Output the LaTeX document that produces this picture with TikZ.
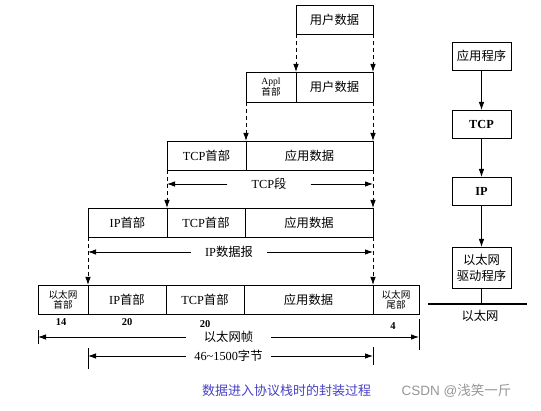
\documentclass[tikz,border=0pt]{standalone}
\usepackage{fontspec}
\setmainfont{Liberation Serif}
\newfontfamily\cjk{Noto Sans CJK SC}
\newfontfamily\wmfont{Liberation Sans}
\usetikzlibrary{arrows.meta,calc}
\definecolor{capblue}{RGB}{72,64,196}
\definecolor{wmgray}{RGB}{150,150,150}
\begin{document}
\begin{tikzpicture}[x=1pt,y=-1pt,
  cell/.style={draw, line width=0.85pt, outer sep=0pt, inner sep=0pt, align=center, font=\fontsize{12.3}{14}\selectfont},
  smallcell/.style={cell, font=\fontsize{9.6}{10}\selectfont},
  stackbox/.style={cell, minimum width=59, minimum height=28, font=\fontsize{12.3}{16}\selectfont},
  dasharrow/.style={line width=0.85pt, dash pattern=on 4pt off 3pt, -{Latex[length=8pt,width=5.5pt]}},
  solidarrow/.style={line width=0.85pt, -{Latex[length=8pt,width=5.5pt]}},
  dimlabel/.style={inner ysep=0pt, font=\fontsize{12.3}{14}\selectfont},
  numlabel/.style={inner sep=0pt, font=\fontsize{10.5}{11}\bfseries\selectfont},
  tick/.style={line width=0.85pt}
]
\useasboundingbox (0,0) rectangle (541,411);
% Row 1
\node[cell, minimum width=77, minimum height=29] (r1u) at (334.5,19.5) {\cjk 用户数据};
% Row 2
\node[smallcell, minimum width=50, minimum height=30] (r2h) at (271,87) {Appl\\{\cjk 首部}};
\node[cell, minimum width=77, minimum height=30] (r2u) at (334.5,87) {\cjk 用户数据};
% Row 3
\node[cell, minimum width=79, minimum height=29] (r3t) at (206.5,155.5) {TCP{\cjk 首部}};
\node[cell, minimum width=127, minimum height=29] (r3a) at (309.5,155.5) {\cjk 应用数据};
% Row 4
\node[cell, minimum width=79, minimum height=29] (r4i) at (127.5,222.5) {IP{\cjk 首部}};
\node[cell, minimum width=78, minimum height=29] (r4t) at (206,222.5) {TCP{\cjk 首部}};
\node[cell, minimum width=128, minimum height=29] (r4a) at (309,222.5) {\cjk 应用数据};
% Row 5
\node[smallcell, minimum width=50, minimum height=29] (r5e) at (63,299.5) {\cjk 以太网\\\cjk 首部};
\node[cell, minimum width=78, minimum height=29] (r5i) at (127,299.5) {IP{\cjk 首部}};
\node[cell, minimum width=78, minimum height=29] (r5t) at (205,299.5) {TCP{\cjk 首部}};
\node[cell, minimum width=129, minimum height=29] (r5a) at (308.5,299.5) {\cjk 应用数据};
\node[smallcell, minimum width=46, minimum height=29] (r5f) at (396,299.5) {\cjk 以太网\\\cjk 尾部};
% numbers
\node[numlabel] (n14) at (61,322) {14};
\node[numlabel] (n20a) at (127,322) {20};
\node[numlabel] (n20b) at (205,324) {20};
\node[numlabel] (n4) at (393,326) {4};
% dashed arrows
\draw[dasharrow] (r1u.south west) -- (r2u.north west);
\draw[dasharrow] (r1u.south east) -- (r2u.north east);
\draw[dasharrow] (r2h.south west) -- (r3a.north west);
\draw[dasharrow] (r2u.south east) -- (r3a.north east);
\draw[dasharrow] (r3t.south west) -- (r4t.north west);
\draw[dasharrow] (r3a.south east) -- (r4a.north east);
\draw[dasharrow] (r4i.south west) -- (r5i.north west);
\draw[dasharrow] (r4a.south east) -- (r5a.north east);
% dimension: TCP segment
\node[dimlabel, inner xsep=24pt] (dTCP) at (269,184) {TCP{\cjk 段}};
\draw[solidarrow] (dTCP.west) -- (r3t.south west |- dTCP);
\draw[solidarrow] (dTCP.east) -- (r3a.south east |- dTCP);
% dimension: IP datagram
\node[dimlabel, inner xsep=14pt] (dIP) at (229,252) {IP{\cjk 数据报}};
\draw[solidarrow] (dIP.west) -- (r4i.south west |- dIP);
\draw[solidarrow] (dIP.east) -- (r4a.south east |- dIP);
% dimension: Ethernet frame
\node[dimlabel, inner xsep=18pt] (dEth) at (228.5,337) {\cjk 以太网帧};
\draw[solidarrow] (dEth.west) -- (r5e.south west |- dEth) coordinate (eL);
\draw[solidarrow] (dEth.east) -- (r5f.south east |- dEth) coordinate (eR);
\draw[tick] ($(eL)+(0,-7)$) -- ($(eL)+(0,7)$);
\draw[tick] ($(eR)+(0,-18)$) -- ($(eR)+(0,13)$);
% dimension: 46~1500 bytes
\node[dimlabel, inner xsep=8pt] (dLen) at (228.5,356) {46\textasciitilde1500{\cjk 字节}};
\draw[solidarrow] (dLen.west) -- (r5i.south west |- dLen) coordinate (lL);
\draw[solidarrow] (dLen.east) -- (r5a.south east |- dLen) coordinate (lR);
\draw[tick] ($(lL)+(0,-8)$) -- ($(lL)+(0,13)$);
\draw[tick] ($(lR)+(0,-9)$) -- ($(lR)+(0,9)$);
% protocol stack
\node[stackbox] (sApp) at (481.5,56) {\cjk 应用程序};
\node[stackbox, font=\fontsize{12.3}{14}\bfseries\selectfont] (sTCP) at (481.5,124) {TCP};
\node[stackbox, font=\fontsize{12.3}{14}\bfseries\selectfont] (sIP) at (481.5,191) {IP};
\node[stackbox, minimum height=41] (sDrv) at (481.5,267.5) {\cjk 以太网\\\cjk 驱动程序};
\draw[solidarrow] (sApp.south) -- (sTCP.north);
\draw[solidarrow] (sTCP.south) -- (sIP.north);
\draw[solidarrow] (sIP.south) -- (sDrv.north);
\coordinate (ethL) at (428,304);
\coordinate (ethR) at (527,304);
\draw[line width=1.8pt] (ethL) -- (ethR);
\draw[line width=0.85pt] (sDrv.south) -- (sDrv.south |- ethL);
\node[dimlabel] (ethLab) at (480,316) {\cjk 以太网};
% caption
\node[inner sep=0pt, text=capblue, font=\fontsize{13}{14}\selectfont] (cap) at (286.5,391) {\cjk 数据进入协议栈时的封装过程};
\node[inner sep=0pt, text=wmgray, font=\fontsize{13.5}{14}\selectfont] (wm) at (456.5,391) {\wmfont CSDN @{\cjk 浅笑一斤}};
\end{tikzpicture}
\end{document}
